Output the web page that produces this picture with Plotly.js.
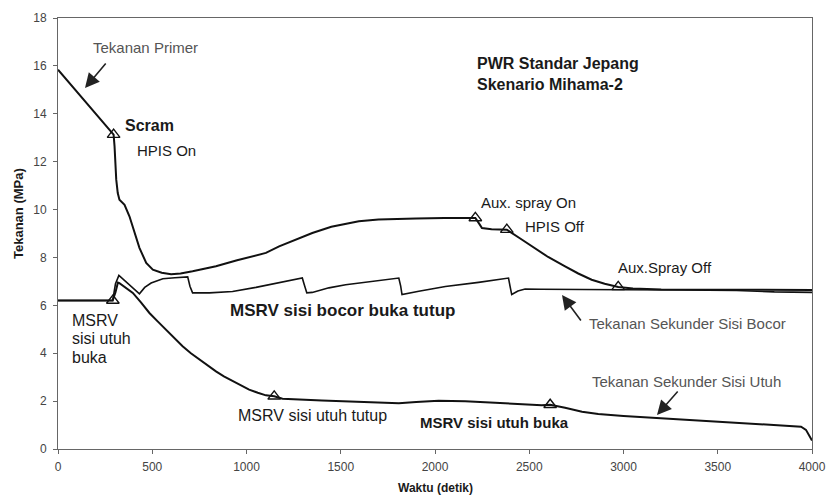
<!DOCTYPE html>
<html>
<head>
<meta charset="utf-8">
<script src="https://cdn.plot.ly/plotly-3.0.1.min.js"></script>
<style>html,body{margin:0;padding:0;background:#fff;}#chart{width:826px;height:498px;}</style>
</head>
<body>
<div id="chart"></div>
<script>
// ---- Data ----
// Tekanan Primer (primary pressure)
const primerTime = [0, 295, 300, 309, 317, 326, 353, 379, 432, 468, 503, 550, 600, 650, 714, 838, 950, 1103, 1173, 1260, 1349, 1450, 1596, 1700, 1790, 1900, 2050, 2161, 2214, 2235, 2249, 2300, 2337, 2381, 2450, 2513, 2600, 2690, 2760, 2831, 2900, 2972, 3050, 3200, 3400, 3600, 3800, 4000];
const primerPres = [15.84, 13.13, 12.64, 11.25, 10.69, 10.41, 10.2, 9.72, 8.4, 7.77, 7.49, 7.36, 7.3, 7.33, 7.42, 7.63, 7.88, 8.19, 8.46, 8.75, 9.02, 9.28, 9.51, 9.58, 9.61, 9.63, 9.65, 9.65, 9.65, 9.4, 9.23, 9.18, 9.16, 9.16, 8.8, 8.46, 8.02, 7.63, 7.33, 7.07, 6.9, 6.77, 6.7, 6.66, 6.65, 6.65, 6.65, 6.64];

// Tekanan Sekunder Sisi Bocor (leaking-side secondary pressure)
const bocorTime = [0, 290, 305, 323, 432, 460, 494, 556, 620, 688, 700, 714, 803, 926, 1050, 1180, 1296, 1305, 1320, 1349, 1437, 1526, 1667, 1808, 1818, 1825, 1914, 2055, 2231, 2390, 2398, 2407, 2440, 2478, 2560, 2654, 2800, 3000, 3300, 3600, 3800, 4000];
const bocorPres = [6.2, 6.2, 6.9, 7.25, 6.48, 6.75, 6.93, 7.11, 7.15, 7.19, 6.8, 6.52, 6.52, 6.58, 6.75, 6.95, 7.14, 6.9, 6.52, 6.54, 6.73, 6.86, 7.0, 7.14, 6.8, 6.45, 6.59, 6.79, 6.96, 7.14, 6.8, 6.45, 6.6, 6.68, 6.67, 6.66, 6.66, 6.65, 6.64, 6.62, 6.56, 6.54];

// Tekanan Sekunder Sisi Utuh (intact-side secondary pressure)
const utuhTime = [0, 290, 305, 318, 326, 360, 397, 440, 485, 530, 573, 617, 661, 705, 750, 795, 838, 880, 926, 970, 1014, 1060, 1103, 1147, 1191, 1400, 1600, 1808, 1900, 2019, 2160, 2350, 2566, 2611, 2650, 2690, 2780, 2866, 3000, 3166, 3350, 3571, 3750, 3942, 3968, 4000];
const utuhPres = [6.2, 6.2, 6.55, 6.95, 6.93, 6.75, 6.52, 6.12, 5.68, 5.32, 4.98, 4.63, 4.29, 4.0, 3.73, 3.48, 3.24, 3.03, 2.83, 2.65, 2.48, 2.35, 2.24, 2.2, 2.1, 2.03, 1.97, 1.91, 1.96, 2.02, 1.99, 1.92, 1.83, 1.85, 1.8, 1.72, 1.56, 1.46, 1.38, 1.3, 1.2, 1.09, 1.02, 0.93, 0.8, 0.35];

// Event markers (open triangles)
const eventTime = [295, 291, 1147, 2214, 2381, 2972, 2611];
const eventPres = [13.13, 6.2, 2.2, 9.65, 9.16, 6.77, 1.85];

// Axis ticks
const xTicks = [0, 500, 1000, 1500, 2000, 2500, 3000, 3500, 4000];
const yTicks = [0, 2, 4, 6, 8, 10, 12, 14, 16, 18];

// ---- Layout helpers ----
const W = 826, H = 498;
const M = {l: 58, r: 14, t: 18, b: 49};
const PW = W - M.l - M.r, PH = H - M.t - M.b;
const px = v => (v - M.l) / PW;
const py = v => 1 - (v - M.t) / PH;

const FONT = 'Liberation Sans, Arial, sans-serif';
const dark = '#1a1a1a', grey = '#555';

function label(text, x, y, size, color, opts) {
  return Object.assign({
    text: text, xref: 'paper', yref: 'paper', x: px(x), y: py(y),
    xanchor: 'left', yanchor: 'middle', showarrow: false, borderpad: 0,
    font: {family: FONT, size: size, color: color}
  }, opts || {});
}
function arrow(tipX, tipY, tailX, tailY) {
  return {
    text: '', xref: 'paper', yref: 'paper', x: px(tipX), y: py(tipY),
    ax: tailX - tipX, ay: tailY - tipY, showarrow: true,
    arrowhead: 2, arrowsize: 1.8, arrowwidth: 1.6, arrowcolor: '#222', standoff: 0
  };
}

const annotations = [
  label('Tekanan Primer', 92, 47, 15, grey),
  arrow(85, 88, 107, 62),
  label('<b>Scram</b>', 124, 126, 16, dark),
  label('HPIS On', 136, 150, 15, dark),
  label('<b>PWR Standar Jepang</b>', 476, 64, 16, dark),
  label('<b>Skenario Mihama-2</b>', 476, 84, 16, dark),
  label('Aux. spray On', 480, 202, 15, dark),
  label('HPIS Off', 524, 227, 15, dark),
  label('Aux.Spray Off', 617, 267, 15, dark),
  label('Tekanan Sekunder Sisi Bocor', 588, 323, 15, grey),
  arrow(562, 295, 582, 322),
  label('<b>MSRV sisi bocor buka tutup</b>', 229, 310, 17, dark),
  label('MSRV', 71, 320, 16, dark),
  label('sisi utuh', 71, 338, 16, dark),
  label('buka', 71, 357, 16, dark),
  label('MSRV sisi utuh tutup', 237, 415, 16, dark),
  label('<b>MSRV sisi utuh buka</b>', 419, 422, 15, dark),
  label('Tekanan Sekunder Sisi Utuh', 591, 381, 15, grey),
  arrow(657, 415, 679, 390),
  label('<b>Tekanan (MPa)</b>', 18, 214, 13, dark, {xanchor: 'center', yanchor: 'middle', textangle: -90}),
  label('<b>Waktu (detik)</b>', 435, 488, 12, dark, {xanchor: 'center'})
];

const lineStyle = w => ({color: '#111', width: w});

const traces = [
  {x: primerTime, y: primerPres, mode: 'lines', line: lineStyle(2), hoverinfo: 'skip'},
  {x: bocorTime, y: bocorPres, mode: 'lines', line: lineStyle(1.6), hoverinfo: 'skip'},
  {x: utuhTime, y: utuhPres, mode: 'lines', line: lineStyle(2), hoverinfo: 'skip'},
  {x: eventTime, y: eventPres, mode: 'markers', hoverinfo: 'skip',
   marker: {symbol: 'triangle-up-open', size: 11, color: '#111', line: {width: 1.4, color: '#111'}}}
];

const axisCommon = {
  showgrid: false, zeroline: false, showline: true, linecolor: '#666', linewidth: 1,
  mirror: true, ticks: 'outside', ticklen: 4, tickcolor: '#666',
  ticklabeloverflow: 'allow',
  tickfont: {family: FONT, size: 12, color: '#444'}
};

const layout = {
  width: W, height: H,
  margin: M,
  paper_bgcolor: '#fff', plot_bgcolor: '#fff',
  showlegend: false,
  font: {family: FONT},
  xaxis: Object.assign({}, axisCommon, {range: [0, 4000], tickvals: xTicks, ticktext: xTicks.map(String), ticklabelstandoff: 3}),
  yaxis: Object.assign({}, axisCommon, {range: [0, 18], tickvals: yTicks, ticktext: yTicks.map(String), ticklabelstandoff: 4}),
  annotations: annotations
};

Plotly.newPlot('chart', traces, layout, {staticPlot: true, displayModeBar: false});
</script>
</body>
</html>
